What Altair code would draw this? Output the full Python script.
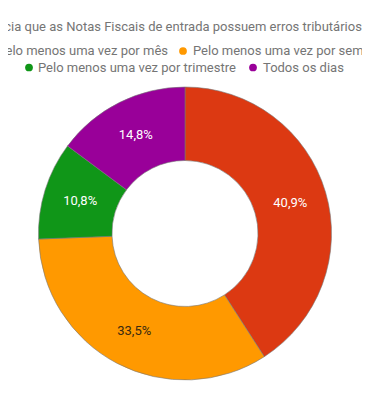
import altair as alt
import pandas as pd

title_text = "Com qual frequência que as Notas Fiscais de entrada possuem erros tributários?"
categories = ["Pelo menos uma vez por mês", "Pelo menos uma vez por semana",
              "Pelo menos uma vez por trimestre", "Todos os dias"]
values = [40.9, 33.5, 10.8, 14.8]
labels = ["40,9%", "33,5%", "10,8%", "14,8%"]
colors = ["#dc3912", "#ff9900", "#109618", "#990099"]

df = pd.DataFrame({"cat": categories, "val": values, "lab": labels,
                   "idx": list(range(len(categories)))})

# page coords -> chart coords: subtract 8
CX, CY = 177, 225.5
R, R2 = 146.5, 73
FONT = "Roboto"
GREY = "#757575"

color_scale = alt.Scale(domain=categories, range=colors)

base = alt.Chart(df).encode(
    theta=alt.Theta("val:Q", stack=True),
    order=alt.Order("idx:Q"),
)

arcs = base.mark_arc(radius=R, radius2=R2, stroke="#777777", strokeWidth=0.6).encode(
    color=alt.Color("cat:N", scale=color_scale, legend=None),
    x=alt.value(CX), y=alt.value(CY),
)

texts = base.mark_text(radius=(R + R2) / 2, font=FONT, fontSize=13).encode(
    text="lab:N",
    x=alt.value(CX), y=alt.value(CY),
    color=alt.condition(alt.datum.cat == categories[1], alt.value("#3a2a10"), alt.value("#ffffff")),
)

title = alt.Chart(pd.DataFrame({"t": [title_text]})).mark_text(
    font=FONT, fontSize=13, align="right", baseline="middle", color=GREY
).encode(text="t:N", x=alt.value(360), y=alt.value(19))


def leg_item(i, dot_x, text_x, y, align="left"):
    d = df.iloc[[i]]
    dot = alt.Chart(d).mark_point(filled=True, shape="circle", size=60, opacity=1).encode(
        x=alt.value(dot_x), y=alt.value(y),
        color=alt.Color("cat:N", scale=color_scale, legend=None),
    )
    txt = alt.Chart(d).mark_text(font=FONT, fontSize=13, align=align, baseline="middle",
                                 color=GREY).encode(
        text="cat:N", x=alt.value(text_x), y=alt.value(y))
    return [dot, txt]


legend_layers = []
legend_layers += leg_item(0, -24, 160, 43, align="right")
legend_layers += leg_item(1, 175, 185, 43)
legend_layers += leg_item(2, 21, 30, 59.5)
legend_layers += leg_item(3, 245, 255, 59.5)

chart = alt.layer(arcs, texts, title, *legend_layers).properties(
    width=354, height=378,
    autosize=alt.AutoSizeParams(type="none"),
    padding=0,
).configure_view(stroke=None)

chart.save("out.html", embed_options={"renderer": "svg", "actions": False})
